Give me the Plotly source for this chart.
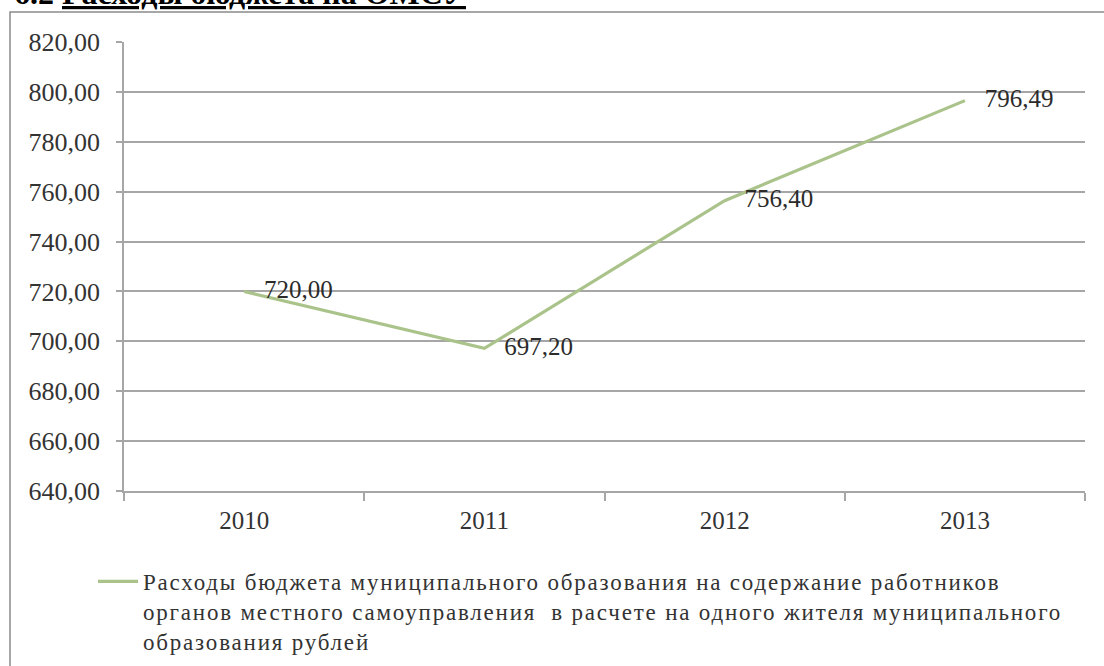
import plotly.graph_objects as go

# ---- data ----
years = ["2010", "2011", "2012", "2013"]
values = [720.00, 697.20, 756.40, 796.49]
y_ticks = [640, 660, 680, 700, 720, 740, 760, 780, 800, 820]
legend_lines = [
    "Расходы бюджета муниципального образования на содержание работников",
    "органов местного самоуправления  в расчете на одного жителя муниципального",
    "образования рублей",
]
title_num = "6.2"
title_main = "Расходы бюджета на ОМСУ"

labels = [f"{v:.2f}".replace(".", ",") for v in values]
tick_text = [f"{t:.2f}".replace(".", ",") for t in y_ticks]
series_name = "<br>".join(
    f"<span style='letter-spacing:1.8px'>{ln}</span>" for ln in legend_lines
)

FONT = "Liberation Serif"
W, H = 1104, 666
ML, MR, MT, MB = 124, 19, 42, 175
pw, ph = W - ML - MR, H - MT - MB


def px2x(px):
    return (px - ML) / pw


def py2y(py):
    return (H - MB - py) / ph


fig = go.Figure()
fig.add_trace(go.Scatter(
    x=years, y=values, name=series_name,
    mode="lines+markers+text",
    line=dict(color="#aac38a", width=3.2),
    marker=dict(size=30, color="rgba(0,0,0,0)", line=dict(width=0)),
    text=labels, textposition="middle right",
    textfont=dict(family=FONT, size=25, color="#2b2b2b"),
    cliponaxis=False,
    hoverinfo="skip",
))

fig.update_layout(
    width=W, height=H,
    margin=dict(l=ML, r=MR, t=MT, b=MB, pad=0, autoexpand=False),
    paper_bgcolor="white", plot_bgcolor="white",
    font=dict(family=FONT, size=24, color="#3a3a3a"),
    showlegend=True,
    legend=dict(
        x=px2x(93), y=py2y(560), xanchor="left", yanchor="top",
        font=dict(family=FONT, size=23, color="#333333"),
        bgcolor="rgba(0,0,0,0)", borderwidth=0,
        itemwidth=40, valign="top",
    ),
    xaxis=dict(
        type="category", range=[-0.5, 3.5],
        showgrid=False, showline=True, linecolor="#a6a6a6", linewidth=1.5,
        ticks="outside", ticklen=8, tickcolor="#a6a6a6", tickwidth=1.5,
        tickson="boundaries", tickfont=dict(family=FONT, size=25, color="#333333"),
        ticklabelstandoff=6,
    ),
    yaxis=dict(
        range=[640, 820], tickvals=y_ticks, ticktext=tick_text,
        showgrid=True, gridcolor="#a6a6a6", gridwidth=1.5,
        showline=True, linecolor="#a6a6a6", linewidth=1.5,
        ticks="outside", ticklen=6, tickcolor="#a6a6a6", tickwidth=1.5,
        tickfont=dict(family=FONT, size=26, color="#333333"),
        ticklabelstandoff=11, zeroline=False,
    ),
    shapes=[dict(
        type="rect", xref="paper", yref="paper",
        x0=px2x(10), x1=px2x(1115), y0=py2y(720), y1=py2y(12),
        line=dict(color="#8a8a8a", width=1.5), fillcolor="rgba(0,0,0,0)", layer="below",
    )],
    annotations=[dict(
        text=f"<b>{title_num} <u>{title_main}</u></b>", xref="paper", yref="paper",
        x=px2x(13), y=py2y(12), xanchor="left", yanchor="bottom",
        showarrow=False, font=dict(family=FONT, size=32, color="black"),
        borderpad=0,
    )],
)

fig.write_html("out.html", config={"displayModeBar": False},
               post_script="document.body.style.margin='0';")
